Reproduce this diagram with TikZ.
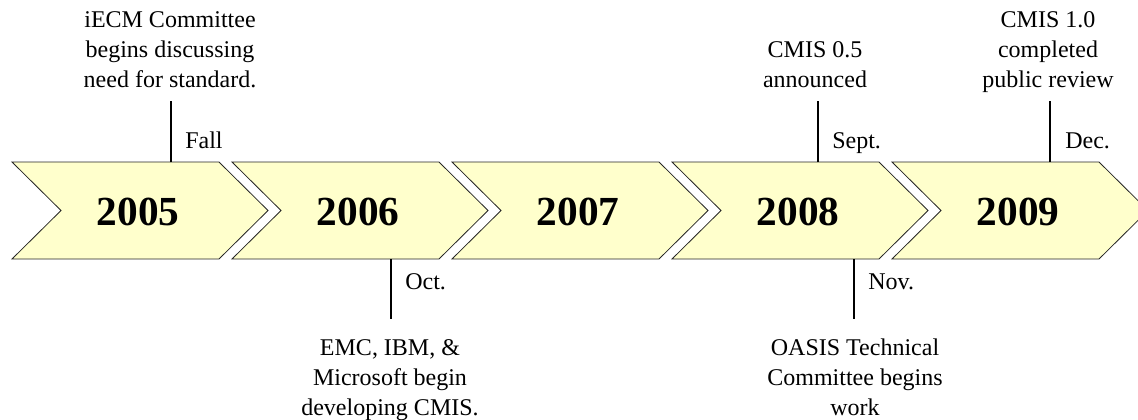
\documentclass[tikz,border=0pt]{standalone}
\usepackage{fontspec}
\setmainfont{Liberation Serif}
\usetikzlibrary{positioning}
\definecolor{chevfill}{HTML}{FFFFCC}
\tikzset{
  chevron/.style={fill=chevfill, draw=black!85, line width=0.6pt},
  yearlabel/.style={font=\fontsize{31}{31}\selectfont\bfseries, inner sep=0pt, anchor=base},
  monthlabel/.style={font=\fontsize{18}{22}\selectfont, inner sep=0pt, anchor=base west},
  eventtext/.style={font=\fontsize{18}{22.5}\selectfont, align=center, inner sep=0pt, anchor=base},
  tick/.style={line width=1pt}
}
\begin{document}
\begin{tikzpicture}[x=0.75pt, y=-0.75pt]
  \useasboundingbox (0,0) rectangle (1138,419);

  % Year chevrons
  \begin{scope}
    \clip (0,0) rectangle (1138,419);
    \foreach \k/\yr in {0/2005, 1/2006, 2/2007, 3/2008, 4/2009} {
      \draw[chevron] (12+220*\k,162) -- ++(207,0) -- ++(49,48.5) -- ++(-49,48.5)
        -- ++(-207,0) -- ++(49,-48.5) -- cycle;
      \node[yearlabel] (y\yr) at (138+220*\k,225) {\yr};
    }
  \end{scope}

  % Events above the arrows
  \coordinate (fallbase) at (171,162);
  \coordinate (falltop) at (171,101);
  \draw[tick] (fallbase) -- (falltop);
  \node[monthlabel] (fall) at (185,148) {Fall};
  \node[eventtext] (iecm) at (170,87) {iECM Committee\\begins discussing\\need for standard.};

  \coordinate (septbase) at (818,162);
  \coordinate (septtop) at (818,101);
  \draw[tick] (septbase) -- (septtop);
  \node[monthlabel] (sept) at (832,148) {Sept.};
  \node[eventtext] (cmisA) at (815,87) {CMIS 0.5\\announced};

  \coordinate (decbase) at (1050,162);
  \coordinate (dectop) at (1050,101);
  \draw[tick] (decbase) -- (dectop);
  \node[monthlabel] (dec) at (1065,148) {Dec.};
  \node[eventtext] (cmisB) at (1048,87) {CMIS 1.0\\completed\\public review};

  % Events below the arrows
  \coordinate (octbase) at (391,259);
  \coordinate (octend) at (391,319);
  \draw[tick] (octbase) -- (octend);
  \node[monthlabel] (oct) at (405,289) {Oct.};
  \node[eventtext] (emc) at (390,415) {EMC, IBM, \&\\Microsoft begin\\developing CMIS.};

  \coordinate (novbase) at (854,259);
  \coordinate (novend) at (854,319);
  \draw[tick] (novbase) -- (novend);
  \node[monthlabel] (nov) at (868,289) {Nov.};
  \node[eventtext] (oasis) at (855,415) {OASIS Technical\\Committee begins\\work};
\end{tikzpicture}
\end{document}
